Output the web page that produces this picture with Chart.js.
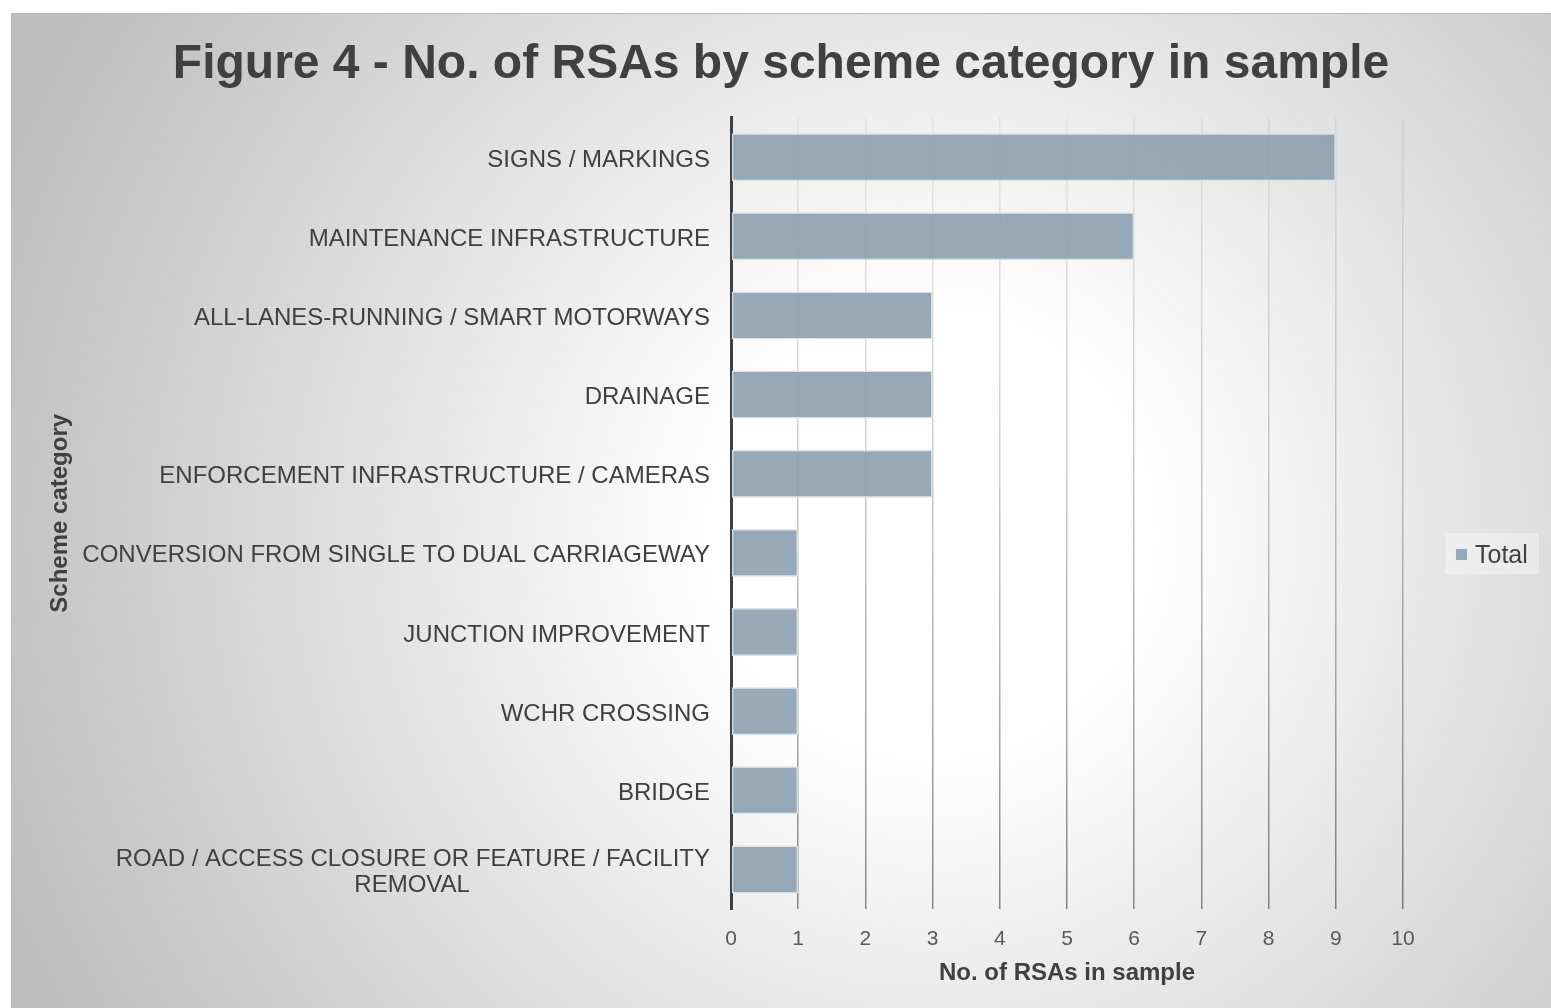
<!DOCTYPE html>
<html>
<head>
<meta charset="utf-8">
<script src="https://cdn.jsdelivr.net/npm/chart.js@4/dist/chart.umd.min.js"></script>
<style>
  html, body { margin: 0; padding: 0; background: #ffffff; }
  #wrap { position: absolute; left: 11px; top: 13px; width: 1540px; height: 995px; }
  canvas { display: block; }
</style>
</head>
<body>
<div id="wrap"><canvas id="c"></canvas></div>
<script>
// ---- data ----
const categories = [
  'SIGNS / MARKINGS',
  'MAINTENANCE INFRASTRUCTURE',
  'ALL-LANES-RUNNING / SMART MOTORWAYS',
  'DRAINAGE',
  'ENFORCEMENT INFRASTRUCTURE / CAMERAS',
  'CONVERSION FROM SINGLE TO DUAL CARRIAGEWAY',
  'JUNCTION IMPROVEMENT',
  'WCHR CROSSING',
  'BRIDGE',
  ['ROAD / ACCESS CLOSURE OR FEATURE / FACILITY', 'REMOVAL']
];
const totals = [9, 6, 3, 3, 3, 1, 1, 1, 1, 1];
const xTicks = [0, 1, 2, 3, 4, 5, 6, 7, 8, 9, 10];
const seriesName = 'Total';
const titleText = 'Figure 4 - No. of RSAs by scheme category in sample';
const xTitle = 'No. of RSAs in sample';
const yTitle = 'Scheme category';

// ---- styling ----
const FONT = "'Liberation Sans', Arial, sans-serif";
const LABEL_SIZE = 24;
const barFill = 'rgba(140,160,174,0.9)';
const barEdge = 'rgba(215,224,230,0.95)';

const measureCtx = document.createElement('canvas').getContext('2d');
measureCtx.font = LABEL_SIZE + 'px ' + FONT;
function centerLines(lbl) {
  if (!Array.isArray(lbl)) return lbl;
  const sp = measureCtx.measureText(' ').width;
  const widths = lbl.map(s => measureCtx.measureText(s).width);
  const maxW = Math.max(...widths);
  return lbl.map((s, i) => s + ' '.repeat(Math.round((maxW - widths[i]) / 2 / sp)));
}

const bgPlugin = {
  id: 'bg',
  beforeDraw(chart) {
    const {ctx, width, height} = chart;
    ctx.save();
    const g = ctx.createRadialGradient(920, 520, 0, 920, 520, 1000);
    g.addColorStop(0, '#ffffff');
    g.addColorStop(0.22, '#ffffff');
    g.addColorStop(1, '#bdbdbd');
    ctx.fillStyle = g;
    ctx.fillRect(0, 0, width, height);
    ctx.strokeStyle = '#bababa';
    ctx.lineWidth = 1;
    ctx.beginPath();
    ctx.moveTo(0.5, height);
    ctx.lineTo(0.5, 0.5);
    ctx.lineTo(width, 0.5);
    ctx.stroke();
    ctx.restore();
  }
};

const legendPlugin = {
  id: 'customLegend',
  afterDraw(chart) {
    const {ctx} = chart;
    ctx.save();
    ctx.fillStyle = 'rgba(255,255,255,0.35)';
    ctx.fillRect(1434, 520, 94, 41);
    const ds = chart.data.datasets[0];
    ctx.fillStyle = '#e8edf0';
    ctx.fillRect(1444, 535, 13, 13);
    ctx.fillStyle = ds.backgroundColor;
    ctx.fillRect(1445, 536, 11, 11);
    ctx.fillStyle = '#404040';
    ctx.font = '25px ' + FONT;
    ctx.textBaseline = 'middle';
    ctx.textAlign = 'left';
    ctx.fillText(ds.label, 1464, 543);
    ctx.restore();
  }
};

let gridGrad = null;
function gridColor(c) {
  const chart = c.chart;
  const a = chart.chartArea;
  if (!a) return 'rgba(0,0,0,0.2)';
  if (!gridGrad) {
    gridGrad = chart.ctx.createLinearGradient(0, a.top, 0, a.bottom);
    gridGrad.addColorStop(0, 'rgba(0,0,0,0.05)');
    gridGrad.addColorStop(0.45, 'rgba(0,0,0,0.2)');
    gridGrad.addColorStop(1, 'rgba(0,0,0,0.45)');
  }
  return gridGrad;
}

new Chart(document.getElementById('c'), {
  type: 'bar',
  data: {
    labels: categories,
    datasets: [{
      label: seriesName,
      data: totals,
      backgroundColor: barFill,
      borderColor: barEdge,
      borderWidth: 1.5,
      borderSkipped: false,
      categoryPercentage: 0.606,
      barPercentage: 1,
      xAxisID: 'x',
      yAxisID: 'y'
    }]
  },
  options: {
    indexAxis: 'y',
    responsive: true,
    maintainAspectRatio: false,
    animation: false,
    devicePixelRatio: 1,
    layout: { padding: 0 },
    plugins: {
      legend: { display: false },
      tooltip: { enabled: false },
      title: {
        display: true,
        text: titleText,
        color: '#404040',
        font: { family: FONT, size: 48, weight: 'bold', lineHeight: 1.2 },
        padding: { top: 23, bottom: 24 }
      }
    },
    scales: {
      x: {
        type: 'linear',
        position: 'bottom',
        min: 0, max: 10,
        afterBuildTicks(scale) { scale.ticks = xTicks.map(v => ({ value: v })); },
        afterFit(scale) { scale.height = 99; },
        ticks: { color: '#595959', font: { family: FONT, size: 21, lineHeight: 1.2 }, padding: 18 },
        grid: { color: gridColor, lineWidth: 1.5, drawTicks: false },
        border: { display: false },
        title: {
          display: true, text: xTitle, color: '#404040',
          font: { family: FONT, size: 24, weight: 'bold', lineHeight: 1.1 },
          padding: { top: 0, bottom: 21 }
        }
      },
      y: {
        type: 'category',
        position: 'left',
        afterFit(scale) { scale.width = 720; },
        ticks: {
          color: '#404040',
          font: { family: FONT, size: LABEL_SIZE, lineHeight: 1.1 },
          padding: 21,
          labelOffset: 3,
          callback(value) { return centerLines(this.chart.data.labels[value]); }
        },
        grid: { display: false, drawTicks: false },
        border: { display: true, color: '#404040', width: 3 },
        title: {
          display: true, text: yTitle, color: '#404040',
          font: { family: FONT, size: 24, weight: 'bold', lineHeight: 1.1 },
          padding: { top: 36, bottom: 0 }
        }
      },
      legendSpace: {
        type: 'category',
        position: 'right',
        display: true,
        afterFit(scale) { scale.width = 148; },
        ticks: { display: false },
        grid: { display: false, drawTicks: false },
        border: { display: false },
        title: { display: false }
      }
    }
  },
  plugins: [bgPlugin, legendPlugin]
});
</script>
</body>
</html>
